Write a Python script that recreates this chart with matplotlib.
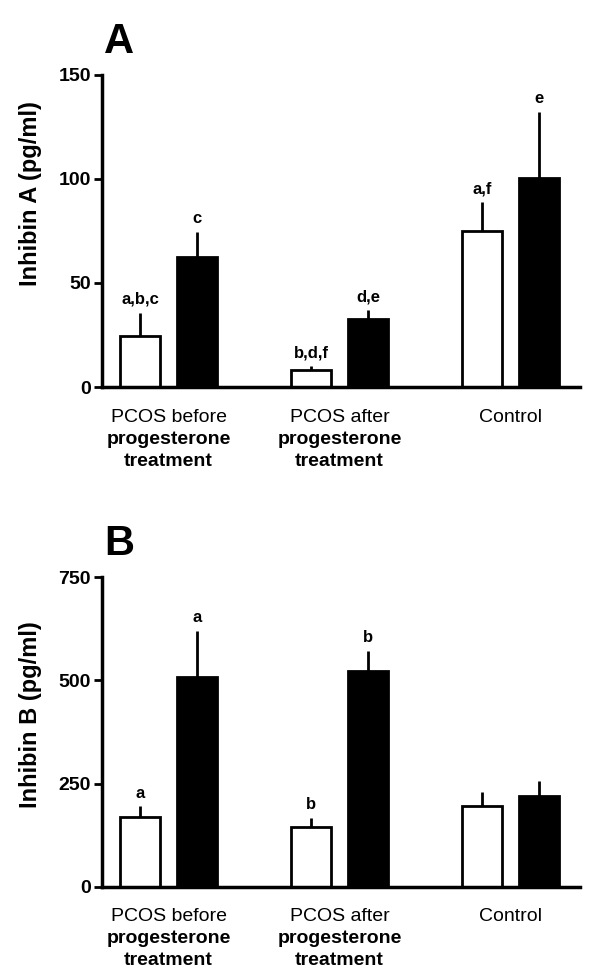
import matplotlib
matplotlib.use("Agg")
import matplotlib.pyplot as plt
import numpy as np

plt.rcParams['font.family'] = ['Liberation Sans', 'DejaVu Sans']

groups = ["PCOS before\nprogesterone\ntreatment",
          "PCOS after\nprogesterone\ntreatment",
          "Control"]

# Panel A: Inhibin A (pg/ml)
a_white = [24.5, 8.3, 75.0]
a_white_err = [11.3, 1.7, 14.0]
a_black = [62.6, 32.9, 100.6]
a_black_err = [12.0, 4.0, 31.8]
a_white_lab = ["a,b,c", "b,d,f", "a,f"]
a_black_lab = ["c", "d,e", "e"]

# Panel B: Inhibin B (pg/ml)
b_white = [169, 146, 196]
b_white_err = [26, 22, 35]
b_black = [507, 522, 221]
b_black_err = [113, 49, 36]
b_white_lab = ["a", "b", ""]
b_black_lab = ["a", "b", ""]

fig = plt.figure(figsize=(6.0, 9.8), dpi=100)

PX = 0.72  # points per pixel at 100 dpi


def panel(rect, white, werr, black, berr, wlab, blab, ymax, yticks, ylabel,
          letter, label_y):
    ax = fig.add_axes(rect)
    x = np.arange(len(groups), dtype=float)
    off = 0.1667
    w = 0.234
    for xs, vals, errs, fc, labs in [(x - off, white, werr, 'white', wlab),
                                     (x + off, black, berr, 'black', blab)]:
        ax.errorbar(xs, vals, yerr=[np.zeros(len(vals)), errs], fmt='none',
                    ecolor='black', elinewidth=2.0, capsize=0, zorder=1)
        ax.bar(xs, vals, width=w, color=fc, edgecolor='black', linewidth=2.0, zorder=2)
        for xi, v, e, lab in zip(xs, vals, errs, labs):
            if lab:
                ax.annotate(lab, (xi, v + e), xytext=(0, 4), textcoords='offset points',
                            ha='center', va='bottom', fontsize=12, fontweight='bold')
    ax.set_xlim(-0.389, 2.406)
    ax.set_ylim(0, ymax)
    ax.set_yticks(yticks)
    ax.set_yticklabels([str(t) for t in yticks], fontsize=14, fontweight='bold')
    ax.set_xticks(x)
    ax.set_xticklabels([""] * len(groups))
    # category labels, line by line (first line regular, rest bold)
    for xi, g in zip(x, groups):
        for k, line in enumerate(g.split("\n")):
            ax.annotate(line, (xi, 0), xycoords=('data', 'axes fraction'),
                        xytext=(0, -(34.5 + 22 * k) * PX), textcoords='offset points',
                        ha='center', va='baseline', fontsize=14,
                        fontweight='normal' if k == 0 else 'bold',
                        annotation_clip=False)
    ax.tick_params(axis='x', length=0)
    ax.tick_params(axis='y', length=6, width=2.0, direction='out', pad=2)
    for s in ['top', 'right']:
        ax.spines[s].set_visible(False)
    for s in ['left', 'bottom']:
        ax.spines[s].set_linewidth(2.5)
    ax.spines['bottom'].set_zorder(3)
    ax.set_ylabel(ylabel, fontsize=17, fontweight='bold')
    ax.yaxis.set_label_coords(-0.126, label_y)
    ax.text(0.005, 1.07, letter, transform=ax.transAxes, fontsize=30,
            fontweight='bold', ha='left', va='baseline')
    return ax


panel([0.17, 0.6051, 0.7967, 0.3184], a_white, a_white_err, a_black, a_black_err,
      a_white_lab, a_black_lab, 150, [0, 50, 100, 150], "Inhibin A (pg/ml)", "A", 0.62)
panel([0.17, 0.0949, 0.7967, 0.3163], b_white, b_white_err, b_black, b_black_err,
      b_white_lab, b_black_lab, 750, [0, 250, 500, 750], "Inhibin B (pg/ml)", "B", 0.555)

fig.savefig("out.png", dpi=100)
